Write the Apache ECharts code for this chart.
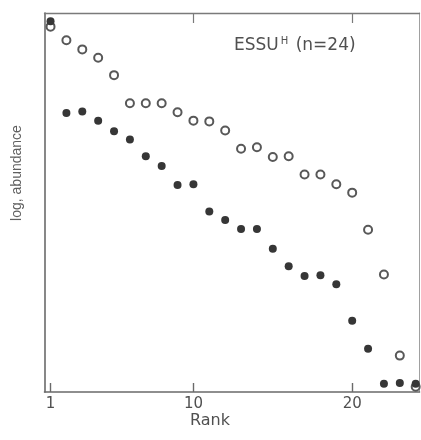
<!DOCTYPE html>
<html><head><meta charset="utf-8">
<script src="https://cdn.jsdelivr.net/npm/echarts@6/dist/echarts.min.js"></script>
<style>html,body{margin:0;padding:0;background:#fff}#c{width:421px;height:440px}</style>
</head><body><div id="c"></div>
<script>
// Rank of each taxon (x)
const ranks = [1,2,3,4,5,6,7,8,9,10,11,12,13,14,15,16,17,18,19,20,21,22,23,24];
// log abundance, open circles (upper series)
const openValues = [4.82,4.64,4.52,4.41,4.18,3.81,3.81,3.81,3.69,3.58,3.57,3.45,3.21,3.23,3.10,3.11,2.87,2.87,2.74,2.63,2.14,1.55,0.48,0.07];
// log abundance, filled circles (lower series)
const filledValues = [4.89,3.68,3.70,3.58,3.44,3.33,3.11,2.98,2.73,2.74,2.38,2.27,2.15,2.15,1.89,1.66,1.53,1.54,1.42,0.94,0.57,0.11,0.12,0.11];
const xTickValues = [1, 10, 20];
const xTickLabels = ['1', '10', '20'];
const topTickValues = [10, 20];
const titleMain = 'ESSU';
const titleSup = 'H';
const titleRest = ' (n=24)';
const xName = 'Rank';
const yName = 'log, abundance';

const chart = echarts.init(document.getElementById('c'), null, {renderer: 'canvas'});
const axisCol = '#6a6a6a';
const textCol = '#505050';
const font = 'DejaVu Sans';
const xMin = 0.62, xMax = 24.24;

chart.setOption({
  backgroundColor: '#ffffff',
  animation: false,
  grid: {left: 44.5, right: 1.5, top: 13, bottom: 48, containLabel: false, outerBoundsMode: 'none'},
  title: [
    {
      text: '{a|' + titleMain + '}{s|' + titleSup + '}{a|' + titleRest + '}',
      left: 229, top: 31,
      textStyle: {
        fontWeight: 'normal',
        rich: {
          a: {fontFamily: font, fontSize: 17, fontWeight: 'normal', color: textCol, lineHeight: 20},
          s: {fontFamily: font, fontSize: 10, fontWeight: 'normal', color: textCol, lineHeight: 20, padding: [0, 2, 9, 2]}
        }
      }
    },
    {
      text: xName, left: 185, top: 407,
      textStyle: {fontFamily: font, fontSize: 16, fontWeight: 'normal', color: textCol, lineHeight: 18}
    }
  ],
  graphic: [
    {
      type: 'text', x: 17, y: 173, rotation: Math.PI / 2,
      style: {text: yName, fontFamily: 'Liberation Sans', fontSize: 14, fill: '#606060', align: 'center', verticalAlign: 'middle'}
    }
  ],
  xAxis: [
    {
      type: 'value', position: 'bottom', min: xMin, max: xMax,
      axisLine: {show: true, onZero: false, lineStyle: {color: axisCol, width: 1.6}},
      axisTick: {show: true, inside: true, length: 9, customValues: xTickValues, lineStyle: {color: axisCol, width: 1.4}},
      axisLabel: {show: true, customValues: xTickValues, margin: 5,
        formatter: v => xTickLabels[xTickValues.indexOf(Math.round(v))] || '',
        fontFamily: font, fontSize: 15, color: textCol},
      splitLine: {show: false}
    },
    {
      type: 'value', position: 'top', min: xMin, max: xMax,
      axisLine: {show: true, onZero: false, lineStyle: {color: '#7a7a7a', width: 1.3}},
      axisTick: {show: true, inside: true, length: 10, customValues: topTickValues, lineStyle: {color: '#7a7a7a', width: 1.2}},
      axisLabel: {show: false},
      splitLine: {show: false}
    }
  ],
  yAxis: [
    {
      type: 'value', position: 'left', min: 0, max: 5,
      axisLine: {show: true, onZero: false, lineStyle: {color: axisCol, width: 1.6}},
      axisTick: {show: false}, axisLabel: {show: false}, splitLine: {show: false}
    },
    {
      type: 'value', position: 'right', min: 0, max: 5,
      axisLine: {show: true, onZero: false, lineStyle: {color: '#a0a0a0', width: 1}},
      axisTick: {show: false}, axisLabel: {show: false}, splitLine: {show: false}
    }
  ],
  series: [
    {
      type: 'scatter', xAxisIndex: 0, yAxisIndex: 0,
      data: ranks.map((r, i) => [r, openValues[i]]),
      symbol: 'circle', symbolSize: 8,
      itemStyle: {color: '#ffffff', borderColor: '#585858', borderWidth: 2, opacity: 1},
      z: 2
    },
    {
      type: 'scatter', xAxisIndex: 0, yAxisIndex: 0,
      data: ranks.map((r, i) => [r, filledValues[i]]),
      symbol: 'circle', symbolSize: 8,
      itemStyle: {color: '#363636', opacity: 1},
      z: 3
    }
  ]
});
</script>
</body></html>
